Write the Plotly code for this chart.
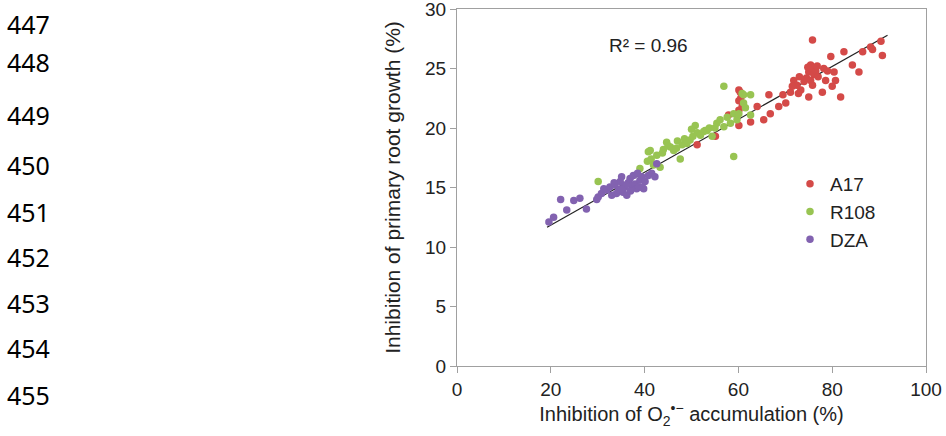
import plotly.graph_objects as go

# ---------------- data ----------------
a17_x = [51.2, 55.1, 57.9, 60.1, 60.1, 60.1, 60.1, 60.4, 60.5, 60.8, 64.0, 66.5, 66.8, 68.6, 70.1,
         65.4, 62.6, 71.1, 71.8, 73.3, 72.5, 74.0, 74.5, 75.0, 75.4, 75.8, 75.8, 76.1, 75.4, 75.8,
         75.0, 76.5, 77.0, 77.9, 78.2, 78.6, 79.7, 80.0, 80.4, 80.7, 81.8, 82.5, 84.3, 85.7, 86.5,
         88.2, 88.6, 90.4, 90.7, 73.0, 74.8, 76.8, 71.5, 69.5, 79.0, 72.8]
a17_y = [18.6, 19.3, 21.1, 23.2, 22.3, 21.5, 20.2, 23.0, 22.5, 21.8, 21.8, 22.8, 21.2, 21.8, 22.1,
         20.7, 20.5, 23.0, 24.0, 23.2, 23.6, 23.9, 24.2, 24.7, 25.3, 25.0, 27.4, 24.5, 24.0, 23.6,
         22.6, 24.8, 24.3, 23.0, 25.0, 24.0, 26.0, 23.5, 24.7, 24.0, 22.6, 26.4, 25.3, 24.7, 26.4,
         26.8, 26.6, 27.3, 26.1, 24.3, 25.1, 25.2, 23.5, 22.8, 24.8, 22.9]

r108_x = [30.1, 39.0, 40.6, 41.4, 41.9, 43.3, 40.8, 41.2, 42.6, 44.0, 44.7, 45.5, 46.2, 47.0, 47.6,
          48.0, 48.5, 49.0, 49.7, 50.3, 50.8, 51.2, 51.9, 52.6, 52.9, 53.3, 53.8, 54.4, 55.0, 55.4,
          56.1, 56.9, 57.6, 58.3, 59.0, 59.7, 56.9, 59.0, 60.8, 61.1, 62.6, 61.1, 61.5, 60.1, 62.6,
          45.0, 46.8, 43.8, 50.0]
r108_y = [15.5, 16.6, 17.2, 17.4, 16.9, 16.7, 18.0, 18.1, 17.7, 18.2, 18.8, 18.4, 18.1, 18.9, 17.4,
          18.6, 19.1, 18.7, 19.0, 19.3, 20.2, 19.6, 19.4, 19.7, 19.8, 19.8, 20.0, 19.3, 20.0, 20.4,
          20.7, 20.1, 20.9, 20.4, 21.2, 20.7, 23.5, 17.6, 22.9, 22.8, 22.8, 22.1, 21.7, 21.2, 21.1,
          18.5, 18.3, 17.9, 19.9]

dza_x = [19.6, 20.6, 22.1, 23.4, 24.9, 26.2, 27.6, 29.8, 30.1, 30.8, 31.3, 31.9, 32.6, 33.0, 33.7,
         34.0, 34.5, 34.8, 35.1, 35.4, 35.8, 36.2, 36.5, 36.9, 37.2, 37.6, 38.0, 38.3, 38.7, 39.0,
         39.4, 39.8, 40.1, 40.8, 41.5, 42.2, 42.6, 36.0, 37.0, 38.5, 35.0, 33.5, 39.5]
dza_y = [12.1, 12.5, 14.0, 13.1, 13.9, 14.1, 13.2, 14.0, 14.2, 14.5, 14.9, 14.8, 15.05, 14.35, 15.2,
         14.5, 14.8, 15.5, 15.9, 14.6, 15.05, 14.35, 15.4, 15.75, 15.2, 16.0, 15.3, 14.9, 15.05, 15.6,
         15.9, 14.9, 15.5, 16.0, 16.2, 15.9, 17.0, 15.2, 14.7, 16.2, 14.9, 15.4, 15.0]

trend_x = [19.2, 91.8]
trend_y = [11.66, 27.8]

r2_label = "R² = 0.96"

x_ticks = [0, 20, 40, 60, 80, 100]
y_ticks = [0, 5, 10, 15, 20, 25, 30]

line_numbers = ["447", "448", "449", "450", "451", "452", "453", "454", "455"]
line_number_py = [24, 62, 115, 165, 212, 257, 303, 348, 395]   # pixel rows (layout)

# ---------------- styles ----------------
C_A17 = "#d44a48"
C_R108 = "#98c452"
C_DZA = "#8262b0"
AX = "#a0a0a0"
FONT = "Liberation Sans, Arial, sans-serif"
TXT = "#222222"

W, H = 946, 436
ML, MR, MT, MB = 457, 20, 9, 70
PW, PH = W - ML - MR, H - MT - MB

fig = go.Figure()
fig.add_trace(go.Scatter(x=trend_x, y=trend_y, mode="lines",
                         line=dict(color="#222222", width=1.2), showlegend=False, hoverinfo="skip"))
for name, xs, ys, c in [("A17", a17_x, a17_y, C_A17),
                        ("R108", r108_x, r108_y, C_R108),
                        ("DZA", dza_x, dza_y, C_DZA)]:
    fig.add_trace(go.Scatter(x=xs, y=ys, mode="markers", name=name,
                             marker=dict(color=c, size=7.5, line=dict(width=0))))

axis_common = dict(showline=True, linecolor=AX, linewidth=1.3, mirror=True,
                   ticks="outside", ticklen=6, tickcolor=AX, tickwidth=1.3,
                   showgrid=False, zeroline=False, automargin=False,
                   ticklabeloverflow="allow",
                   tickfont=dict(family=FONT, size=19, color=TXT))

fig.update_layout(
    width=W, height=H,
    margin=dict(l=ML, r=MR, t=MT, b=MB, autoexpand=False),
    paper_bgcolor="white", plot_bgcolor="white",
    font=dict(family=FONT, size=19, color=TXT),
    xaxis=dict(range=[0, 100], tickvals=x_ticks, **axis_common,
               title=dict(text="Inhibition of O<sub>2</sub><sup>•−</sup> accumulation (%)",
                          font=dict(family=FONT, size=20, color=TXT), standoff=6)),
    yaxis=dict(range=[0, 30], tickvals=y_ticks, **axis_common,
               title=dict(text="Inhibition of primary root growth (%)",
                          font=dict(family=FONT, size=21, color=TXT), standoff=18)),
    legend=dict(x=(790 - ML) / PW, y=(366 - 165) / PH, xanchor="left", yanchor="top",
                font=dict(family=FONT, size=19, color=TXT),
                bgcolor="rgba(0,0,0,0)", itemwidth=30, tracegroupgap=0),
    showlegend=True,
)

fig.add_annotation(x=(607 - ML) / PW, y=(366 - 46) / PH, xref="paper", yref="paper",
                   text=r2_label, showarrow=False, xanchor="left", yanchor="middle",
                   font=dict(family=FONT, size=19, color=TXT))

for lab, py in zip(line_numbers, line_number_py):
    fig.add_annotation(x=(5 - ML) / PW, y=(366 - py) / PH, xref="paper", yref="paper",
                       text=lab, showarrow=False, xanchor="left", yanchor="middle",
                       font=dict(family="Noto Sans, sans-serif", size=25, color="#000000"))

# the page's default body margin would push the figure 8 px right and down
fig.write_html("out.html",
               config={"displayModeBar": False},
               post_script="document.body.style.margin='0';document.body.style.padding='0';"
                           "document.documentElement.style.overflow='hidden';")
